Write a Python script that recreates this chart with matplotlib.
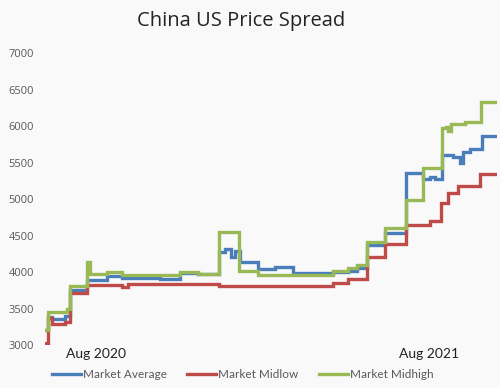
import matplotlib
matplotlib.use("Agg")
import matplotlib.pyplot as plt
import pandas as pd

# ---- data ----
avg_dates = ["2020-06-06", "2020-06-09", "2020-06-14", "2020-06-28", "2020-07-03", "2020-07-22",
             "2020-08-13", "2020-08-30", "2020-10-10", "2020-11-01", "2020-11-21", "2020-12-14",
             "2020-12-20", "2020-12-27", "2020-12-31", "2021-01-06", "2021-01-26", "2021-02-13",
             "2021-03-05", "2021-04-18", "2021-05-04", "2021-05-14", "2021-05-25", "2021-06-14",
             "2021-07-07", "2021-07-26", "2021-08-02", "2021-08-08", "2021-08-16", "2021-08-28",
             "2021-09-04", "2021-09-08", "2021-09-15", "2021-09-28", "2021-10-15"]
avg_values = [3200, 3390, 3350, 3400, 3760, 3890,
              3940, 3915, 3910, 3990, 3975, 4280,
              4310, 4200, 4290, 4135, 4040, 4065,
              3990, 4000, 4020, 4050, 4370, 4540,
              5360, 5280, 5300, 5270, 5600, 5580,
              5490, 5650, 5680, 5860, 5860]

low_dates = ["2020-06-06", "2020-06-09", "2020-06-14", "2020-06-28", "2020-07-03", "2020-07-22",
             "2020-08-30", "2020-09-05", "2020-10-20", "2020-12-14", "2021-04-18", "2021-05-04",
             "2021-05-25", "2021-06-14", "2021-07-07", "2021-08-02", "2021-08-15", "2021-08-22",
             "2021-09-02", "2021-09-26", "2021-10-15"]
low_values = [3030, 3370, 3290, 3310, 3710, 3820,
              3800, 3830, 3840, 3810, 3850, 3900,
              4200, 4390, 4640, 4700, 4950, 5080,
              5180, 5340, 5340]

high_dates = ["2020-06-06", "2020-06-09", "2020-06-30", "2020-07-03", "2020-07-22", "2020-07-25",
              "2020-08-13", "2020-08-30", "2020-11-01", "2020-11-21", "2020-12-14", "2021-01-05",
              "2021-01-26", "2021-04-18", "2021-05-04", "2021-05-14", "2021-05-25", "2021-06-14",
              "2021-07-07", "2021-07-26", "2021-08-16", "2021-08-20", "2021-08-22", "2021-08-25",
              "2021-09-10", "2021-09-27", "2021-10-15"]
high_values = [3200, 3450, 3490, 3810, 4140, 3970,
               4000, 3960, 4000, 3975, 4550, 4020,
               3960, 4010, 4050, 4100, 4410, 4600,
               4990, 5420, 5970, 5990, 5930, 6030,
               6050, 6330, 6330]

series_names = ["Market Average", "Market Midlow", "Market Midhigh"]
x_tick_dates = ["2020-08-01", "2021-08-01"]
x_tick_labels = ["Aug 2020", "Aug 2021"]
y_ticks = [3000, 3500, 4000, 4500, 5000, 5500, 6000, 6500, 7000]
title = "China US Price Spread"

colors = ["#4A7EBB", "#BE4B48", "#98B954"]
bg = "#F9F9F9"

fig = plt.figure(figsize=(5.0, 3.88), dpi=100, facecolor=bg)
ax = fig.add_axes([0.09, 0.1108, 0.904, 0.7526], facecolor=bg)

data = [(avg_dates, avg_values), (low_dates, low_values), (high_dates, high_values)]
for (d, v), name, c in zip(data, series_names, colors):
    ax.plot(pd.to_datetime(d), v, drawstyle="steps-post", color=c, lw=2.4,
            label=name, solid_joinstyle="miter")

ax.set_xlim(pd.Timestamp(avg_dates[0]), pd.Timestamp(avg_dates[-1]))
ax.set_ylim(3000, 7000)
ax.set_yticks(y_ticks)
ax.set_yticklabels([str(t) for t in y_ticks], fontfamily="Open Sans", fontsize=8, color="#595959")
ax.set_xticks(pd.to_datetime(x_tick_dates))
ax.set_xticklabels(x_tick_labels, fontfamily="Lato", fontsize=10, color="#222222")
ax.tick_params(axis="both", length=0)
ax.tick_params(axis="y", pad=8)
ax.tick_params(axis="x", pad=2)
for s in ax.spines.values():
    s.set_visible(False)

fig.text(0.482, 0.945, title, ha="center", va="center", fontfamily="Open Sans",
         fontsize=14.5, color="#222222")

fig.legend(loc="center", bbox_to_anchor=(0.485, 0.034), ncol=3, frameon=False,
           prop={"family": "Lato", "size": 8.5}, labelcolor="#595959",
           handlelength=2.5, handletextpad=0.15, columnspacing=1.7)

fig.savefig("out.png", dpi=100, facecolor=bg)
